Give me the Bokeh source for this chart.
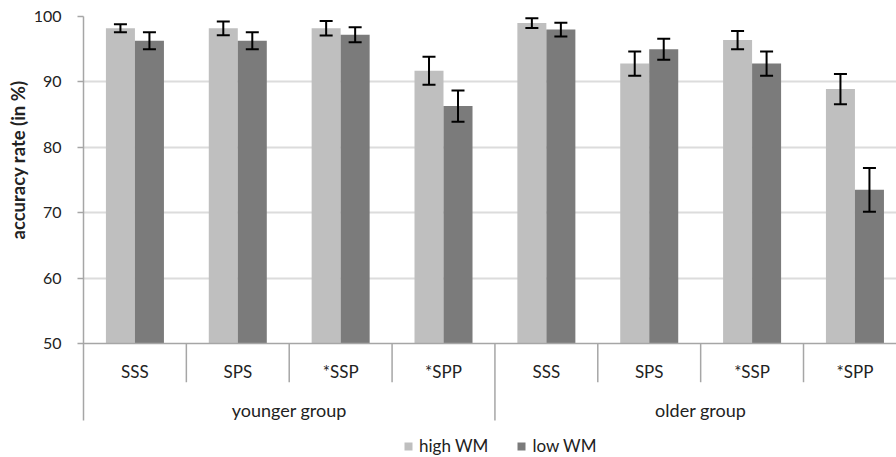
from bokeh.plotting import figure
from bokeh.models import (ColumnDataSource, Range1d, FixedTicker, Span, Whisker,
                          TeeHead, Title, Legend, LegendItem)
from bokeh.core.properties import value
from bokeh.embed import file_html
from bokeh.resources import INLINE

# ---------------- data ----------------
categories = ["SSS", "SPS", "*SSP", "*SPP"]
groups = ["younger group", "older group"]
high_wm = [98.2, 98.2, 98.2, 91.7, 99.0, 92.8, 96.4, 88.9]
high_err = [0.6, 1.05, 1.1, 2.15, 0.75, 1.85, 1.4, 2.3]
low_wm = [96.3, 96.3, 97.2, 86.3, 98.0, 95.0, 92.8, 73.5]
low_err = [1.3, 1.3, 1.15, 2.4, 1.05, 1.6, 1.85, 3.35]
y_ticks = [50, 60, 70, 80, 90, 100]
series_names = ["high WM", "low WM"]
y_title = "accuracy rate (in %)"

# ---------------- styling / layout ----------------
FONT = "Lato"
LIGHT = "#bfbfbf"
DARK = "#7b7b7b"
AXIS = "#a6a6a6"
GRID = "#dcdcdc"
TXT = "#222222"
BAR_W = 0.282
Y_MIN = 32.57      # bottom of the frame (legend area)
Y_AXIS_END = 38.23 # where the left axis line and group divider stop
Y_BASE = 50

n_cat = len(categories)
n = n_cat * len(groups)
centers = [i + 0.5 for i in range(n)]
xl = [c - BAR_W / 2 for c in centers]
xd = [c + BAR_W / 2 for c in centers]
cat_labels = categories * len(groups)

p = figure(width=896, height=457, output_backend="svg", toolbar_location=None,
           x_range=Range1d(0, 7.904), y_range=Range1d(Y_MIN, 100),
           x_axis_location=None, min_border_left=83, min_border_right=0,
           min_border_top=16, min_border_bottom=0)
p.outline_line_color = None
p.background_fill_color = "white"
p.border_fill_color = "white"

# grid
p.ygrid.ticker = FixedTicker(ticks=[t for t in y_ticks if t > Y_BASE])
p.ygrid.grid_line_color = GRID
p.ygrid.grid_line_width = 2
p.xgrid.grid_line_color = None

# y axis
p.yaxis.ticker = FixedTicker(ticks=y_ticks)
p.yaxis.bounds = (Y_AXIS_END, 100)
p.yaxis.axis_line_color = AXIS
p.yaxis.axis_line_width = 1.5
p.yaxis.major_tick_line_color = AXIS
p.yaxis.major_tick_line_width = 1.5
p.yaxis.major_tick_out = 6
p.yaxis.major_tick_in = 0
p.yaxis.minor_tick_line_color = None
p.yaxis.major_label_standoff = 16
p.yaxis.major_label_text_font = FONT
p.yaxis.major_label_text_font_size = "16px"
p.yaxis.major_label_text_color = TXT

# y-axis title (left panel title so it can be offset along the axis)
p.add_layout(Title(text=y_title, align="right", offset=64, standoff=4,
                   text_font=FONT, text_font_size="18.5px", text_font_style="bold",
                   text_color=TXT), "left")

# bars
src = ColumnDataSource(dict(xl=xl, xd=xd, hi=high_wm, lo=low_wm,
                            hi_up=[v + e for v, e in zip(high_wm, high_err)],
                            hi_dn=[v - e for v, e in zip(high_wm, high_err)],
                            lo_up=[v + e for v, e in zip(low_wm, low_err)],
                            lo_dn=[v - e for v, e in zip(low_wm, low_err)]))
r_hi = p.vbar(x="xl", width=BAR_W, bottom=Y_BASE, top="hi", source=src,
              fill_color=LIGHT, line_color=None)
r_lo = p.vbar(x="xd", width=BAR_W, bottom=Y_BASE, top="lo", source=src,
              fill_color=DARK, line_color=None)

for base, up, dn in (("xl", "hi_up", "hi_dn"), ("xd", "lo_up", "lo_dn")):
    w = Whisker(source=src, base=base, upper=up, lower=dn, dimension="height",
                level="overlay", line_color="black", line_width=2,
                upper_head=TeeHead(size=13, line_color="black", line_width=2),
                lower_head=TeeHead(size=13, line_color="black", line_width=2))
    p.add_layout(w)

# category axis line
p.add_layout(Span(location=Y_BASE, dimension="width", line_color=AXIS, line_width=1.5))

# dividers
short_bottom = 44.08
sx, sy0, sy1 = [], [], []
for i in range(1, n):
    sx.append(i)
    sy0.append(Y_BASE)
    sy1.append(Y_AXIS_END if i % n_cat == 0 else short_bottom)
p.segment(x0=sx, y0=sy0, x1=sx, y1=sy1, line_color=AXIS, line_width=1.5)

# category labels
p.text(x=centers, y=[45.76] * n, text=cat_labels, text_align="center",
       text_baseline="middle", text_font=value(FONT), text_font_size="17px",
       text_color=TXT)
# group labels
gx = [g * n_cat + n_cat / 2 for g in range(len(groups))]
p.text(x=gx, y=[39.9] * len(groups), text=groups, text_align="center",
       text_baseline="middle", text_font=value(FONT), text_font_size="18px",
       text_color=TXT)

# legend (inside the lower part of the frame)
legend = Legend(items=[LegendItem(label=series_names[0], renderers=[r_hi]),
                       LegendItem(label=series_names[1], renderers=[r_lo])],
                orientation="horizontal", location=(320, 1),
                glyph_width=10, glyph_height=10, label_standoff=6, spacing=28,
                padding=0, margin=0, border_line_color=None,
                background_fill_alpha=0, label_text_font=FONT,
                label_text_font_size="17px", label_text_color=TXT)
p.add_layout(legend, "center")

open("out.html", "w").write(file_html(p, INLINE))
